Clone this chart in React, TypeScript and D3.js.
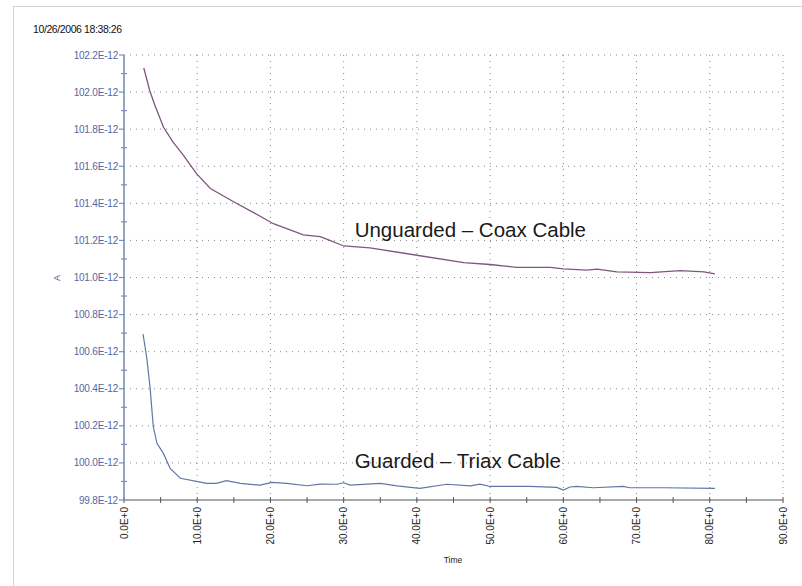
import React from 'react';
import * as d3 from 'd3';

// readings in pA, time in s
const unguardedTime = [2.7, 3.5, 4.2, 5.4, 6.7, 8.1, 9.9, 11.8, 14.9, 17.7, 20.4, 24.5, 26.8, 28.1, 30.0, 33.6, 40.0, 46.4, 50.0, 53.6, 58.2, 60.0, 63.2, 64.6, 67.3, 71.9, 76.0, 79.2, 80.7];
const unguardedAmps = [102.13, 102.01, 101.93, 101.81, 101.73, 101.66, 101.56, 101.48, 101.41, 101.35, 101.29, 101.23, 101.22, 101.2, 101.17, 101.16, 101.12, 101.08, 101.07, 101.055, 101.055, 101.046, 101.04, 101.045, 101.03, 101.026, 101.037, 101.03, 101.02];

const guardedTime = [2.6, 3.1, 3.55, 4.0, 4.5, 5.4, 6.3, 7.7, 9.9, 11.3, 12.6, 14.0, 15.9, 18.6, 20.2, 22.2, 25.0, 26.8, 29.1, 30.0, 30.9, 35.0, 37.3, 40.4, 44.1, 47.3, 48.6, 50.0, 55.4, 59.1, 60.0, 60.9, 61.8, 64.1, 68.2, 69.1, 73.7, 80.7];
const guardedAmps = [100.695, 100.57, 100.41, 100.195, 100.106, 100.05, 99.97, 99.917, 99.9, 99.89, 99.89, 99.904, 99.89, 99.88, 99.895, 99.89, 99.877, 99.886, 99.885, 99.893, 99.88, 99.89, 99.876, 99.863, 99.885, 99.876, 99.886, 99.873, 99.873, 99.868, 99.854, 99.87, 99.873, 99.866, 99.873, 99.866, 99.866, 99.863];

const xTicks = [0, 10, 20, 30, 40, 50, 60, 70, 80, 90];
const yTicks = [99.8, 100.0, 100.2, 100.4, 100.6, 100.8, 101.0, 101.2, 101.4, 101.6, 101.8, 102.0, 102.2];

const timestamp = '10/26/2006 18:38:26';
const labels = [
  { text: 'Unguarded \u2013 Coax Cable', t: 31.5, v: 101.22 },
  { text: 'Guarded \u2013 Triax Cable', t: 31.5, v: 99.97 },
];

const W = 802;
const H = 586;
const left = 124;
const right = 783;
const top = 55;
const bottom = 500;
const font = '"Liberation Sans", Arial, sans-serif';

export default function App() {
  const x = d3.scaleLinear().domain([0, 90]).range([left, right]);
  const y = d3.scaleLinear().domain([99.8, 102.2]).range([bottom, top]);

  const line = d3
    .line<[number, number]>()
    .x(d => x(d[0]))
    .y(d => y(d[1]));

  const uPts = unguardedTime.map((t, i) => [t, unguardedAmps[i]] as [number, number]);
  const gPts = guardedTime.map((t, i) => [t, guardedAmps[i]] as [number, number]);

  const xMinor = d3.range(5, 90, 10);
  const yMinor = d3.range(99.9, 102.2, 0.2);

  return (
    <div style={{ position: 'absolute', left: 0, top: 0 }}>
      <svg width={W} height={H} style={{ display: 'block', background: '#fff' }}>
        <rect x={13.5} y={6.5} width={W} height={H} fill="none" stroke="#d4d4d4" />
        <text x={33} y={33} fontFamily={font} fontSize={10.5} fill="#111" letterSpacing={-0.4}>
          {timestamp}
        </text>

        {/* grid */}
        {xTicks.slice(1).map(t => (
          <line key={'gx' + t} x1={x(t)} x2={x(t)} y1={top} y2={bottom}
            stroke="#888" strokeWidth={1} strokeDasharray="1,5" />
        ))}
        {yTicks.slice(1).map(v => (
          <line key={'gy' + v} x1={left} x2={right} y1={y(v)} y2={y(v)}
            stroke="#888" strokeWidth={1} strokeDasharray="1,5" />
        ))}

        {/* series */}
        <path d={line(uPts) ?? ''} fill="none" stroke="#7f5580" strokeWidth={1.3} />
        <path d={line(gPts) ?? ''} fill="none" stroke="#6276a6" strokeWidth={1.2} />

        {/* x axis */}
        <line x1={left} x2={right} y1={bottom} y2={bottom} stroke="#555" strokeWidth={1.2} />
        {xTicks.map(t => (
          <line key={'xt' + t} x1={x(t)} x2={x(t)} y1={bottom - 3} y2={bottom + 3} stroke="#555" />
        ))}
        {xMinor.map(t => (
          <line key={'xm' + t} x1={x(t)} x2={x(t)} y1={bottom - 3} y2={bottom + 3} stroke="#555" />
        ))}
        {xTicks.map(t => (
          <text key={'xl' + t} transform={`translate(${x(t) + 3.5},${bottom + 7}) rotate(-90)`}
            textAnchor="end" fontFamily={font} fontSize={10} fill="#222">
            {`${t.toFixed(1)}E+0`}
          </text>
        ))}
        <text x={453} y={563} textAnchor="middle" fontFamily={font} fontSize={8.5} fill="#222">Time</text>

        {/* y axis */}
        <line x1={left} x2={left} y1={top} y2={bottom} stroke="#7d8dbd" strokeWidth={1.6} />
        {yTicks.map(v => (
          <line key={'yt' + v} x1={left - 5} x2={left} y1={y(v)} y2={y(v)} stroke="#7d8dbd" strokeWidth={1.2} />
        ))}
        {yMinor.map(v => (
          <line key={'ym' + v} x1={left - 3} x2={left + 3} y1={y(v)} y2={y(v)} stroke="#7d8dbd" strokeWidth={1.2} />
        ))}
        {yTicks.map(v => (
          <text key={'yl' + v} x={left - 6} y={y(v) + 3.5} textAnchor="end"
            fontFamily={font} fontSize={10} fill="#5367a5" letterSpacing={-0.2}>
            {`${v.toFixed(1)}E-12`}
          </text>
        ))}
        <text transform={`translate(60,${278}) rotate(-90)`} textAnchor="middle"
          fontFamily={font} fontSize={9} fill="#4f62a0">A</text>

        {/* annotations */}
        {labels.map(l => (
          <text key={l.text} x={x(l.t)} y={y(l.v)} fontFamily={font} fontSize={20.5} fill="#1a1a1a">
            {l.text}
          </text>
        ))}
      </svg>
    </div>
  );
}
